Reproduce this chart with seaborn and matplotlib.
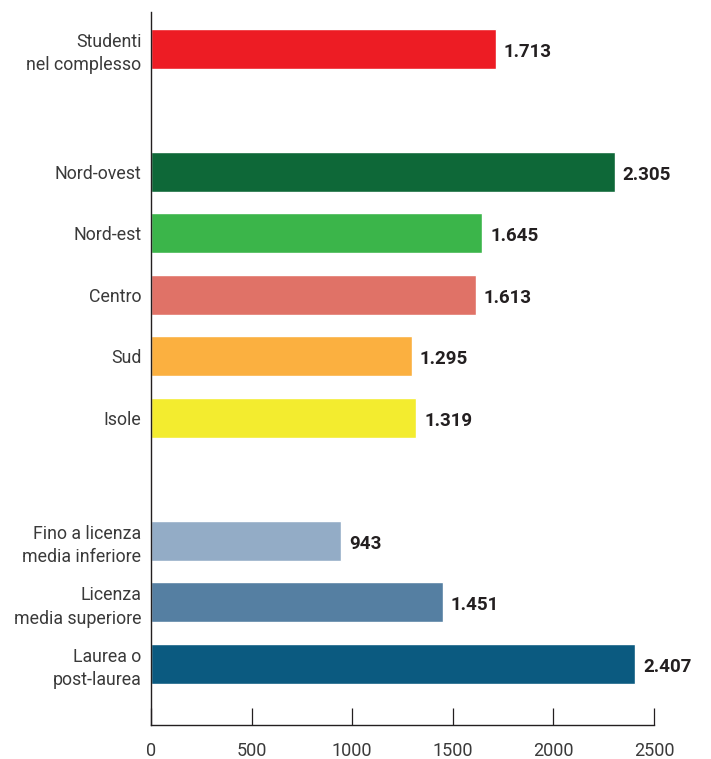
import matplotlib
matplotlib.use("Agg")
import matplotlib.pyplot as plt
import seaborn as sns
import pandas as pd

# Average values by group
categories = [
    "Studenti\nnel complesso",
    "Nord-ovest",
    "Nord-est",
    "Centro",
    "Sud",
    "Isole",
    "Fino a licenza\nmedia inferiore",
    "Licenza\nmedia superiore",
    "Laurea o\npost-laurea",
]
values = [1713, 2305, 1645, 1613, 1295, 1319, 943, 1451, 2407]
value_labels = ["1.713", "2.305", "1.645", "1.613", "1.295", "1.319", "943", "1.451", "2.407"]
# Row slots, leaving a blank slot between the three groups
slots = [0, 2, 3, 4, 5, 6, 8, 9, 10]
colors = ["#ED1C24", "#0E6838", "#3BB54A", "#E07267", "#FBB040",
          "#F3EC2F", "#93ACC6", "#557FA2", "#0B5A80"]
x_ticks = [0, 500, 1000, 1500, 2000, 2500]

sns.set_theme(style="white")
plt.rcParams["font.family"] = ["Roboto", "DejaVu Sans"]

df = pd.DataFrame({"cat": categories, "val": values, "pos": slots})

fig = plt.figure(figsize=(7.11, 7.59), dpi=100)
ax = fig.add_axes([151 / 711, 1 - 725 / 759, 503 / 711, 713 / 759])

sns.barplot(data=df, x="val", y="pos", hue="cat", orient="h",
            palette=dict(zip(categories, colors)), native_scale=True,
            width=0.65, legend=False, saturation=1, ax=ax)

ax.set_xlim(0, 2500)
ax.set_ylim(11.0, -0.6)
ax.set_yticks(slots)
ax.set_yticklabels(categories, fontsize=12.8, color="#3a3a3a",
                   linespacing=1.4)
ax.set_xticks(x_ticks)
ax.set_xticklabels([str(t) for t in x_ticks], fontsize=13,
                   color="#3a3a3a")
ax.tick_params(axis="y", length=0, pad=7)
ax.tick_params(axis="x", direction="in", length=12.5, width=0.9,
               color="#231F20", pad=12, bottom=True)
ax.set_xlabel("")
ax.set_ylabel("")

for side in ["top", "right"]:
    ax.spines[side].set_visible(False)
for side in ["left", "bottom"]:
    ax.spines[side].set_color("#231F20")
    ax.spines[side].set_linewidth(1.0)

for v, p, lab in zip(values, slots, value_labels):
    ax.text(v + 40, p + 0.05, lab, va="center", ha="left", fontsize=13.5,
            fontweight="bold", color="#231F20")

fig.savefig("out.png", dpi=100, facecolor="white")
